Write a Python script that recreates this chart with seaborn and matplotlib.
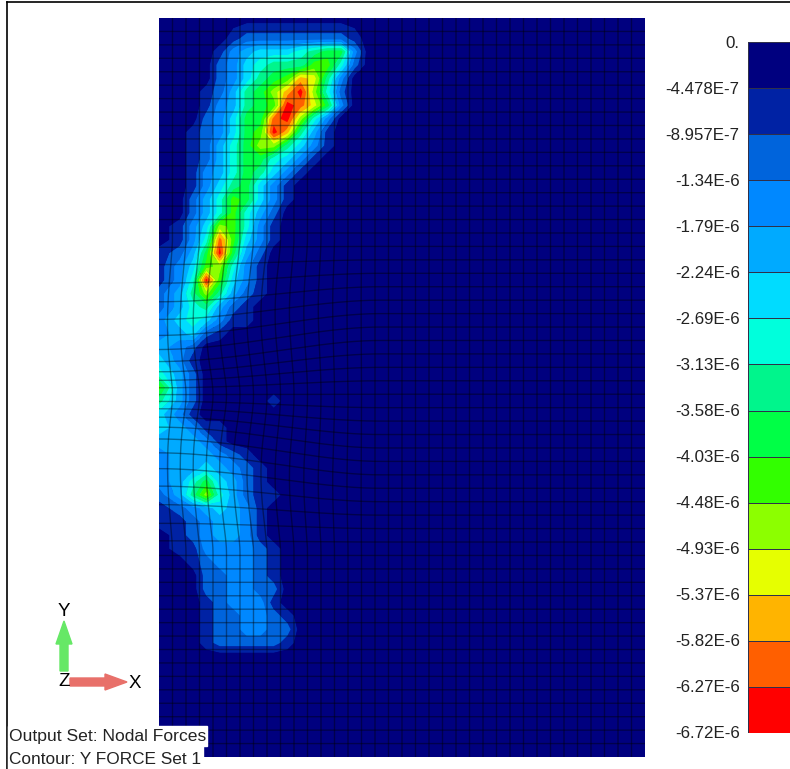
import numpy as np
import pandas as pd
import matplotlib
matplotlib.use('Agg')
import matplotlib.pyplot as plt
import seaborn as sns
from matplotlib.colors import ListedColormap, BoundaryNorm
from matplotlib.lines import Line2D
from matplotlib.patches import FancyArrow, Rectangle
from matplotlib.transforms import ScaledTranslation

tick_labels = ['0.', '-4.478E-7', '-8.957E-7', '-1.34E-6', '-1.79E-6', '-2.24E-6',
               '-2.69E-6', '-3.13E-6', '-3.58E-6', '-4.03E-6', '-4.48E-6', '-4.93E-6',
               '-5.37E-6', '-5.82E-6', '-6.27E-6', '-6.72E-6']
tick_values = [0, -4.478e-7, -8.957e-7, -1.34e-6, -1.79e-6, -2.24e-6, -2.69e-6, -3.13e-6,
               -3.58e-6, -4.03e-6, -4.48e-6, -4.93e-6, -5.37e-6, -5.82e-6, -6.27e-6, -6.72e-6]
band_colors = ['#00007f', '#0022a4', '#0064dc', '#0088ff', '#00aaff', '#00dcff', '#00ffdc',
               '#00f58c', '#00ff46', '#32ff00', '#8cff00', '#e6ff00', '#ffb400', '#ff5f00', '#ff0000']

# contour band per mesh cell, base 15, left part of the model only
band_rows = [
    '',
    '000001222222221',
    '000013455567883',
    '000023567779962',
    '00002357 89cb73'.replace(' ', ''),
    '00012478acea62',
    '00013478 9edb83'.replace(' ', '')[:14],
    '0002358 8dea63'.replace(' ', ''),
    '00123589ec741',
    '001246 8aa7531'.replace(' ', ''),
    '0012468865 31'.replace(' ', ''),
    '00134687531',
    '0013578531',
    '0024698531',
    '002469642',
    '0135a9631',
    '0136d9531',
    '1248e842',
    '1359a631',
    '136e9531',
    '247a7421',
    '2467421',
    '3565311',
    '34521',
    '432',
    '531',
    '642',
    '942',
    '742000001',
    '531',
    '54311',
    '44431',
    '3444321',
    '34454321',
    '34685421',
    '247a64211',
    '12345431',
    '11234431',
    '01234431',
    '011333321',
    '001233321',
    '000223321',
    '000223322',
    '000123331',
    '0001223321',
    '0001223322',
    '0001222221',
]
n_rows, n_cols = 55, 36

W, H = 790, 769
L, R, T, B = 159, 645, 18, 757

bands = np.zeros((n_rows, n_cols))
for i, row in enumerate(band_rows):
    for j, c in enumerate(row):
        bands[i, j] = int(c, 15)

edges = np.array(tick_values)[::-1]
# node values sit at the middle of their band
mids = np.array(tick_values)[:-1] + np.diff(tick_values) / 2
field = pd.DataFrame(mids[bands.astype(int)])
cmap = ListedColormap(band_colors[::-1])
norm = BoundaryNorm(edges, cmap.N)

fig = plt.figure(figsize=(W / 100, H / 100), dpi=100)
ax = fig.add_axes([L / W, 1 - B / H, (R - L) / W, (B - T) / H])
sns.heatmap(field, ax=ax, cmap=cmap, norm=norm, cbar=False, xticklabels=False, yticklabels=False)

xs = np.arange(n_cols) + 0.5
ys = np.arange(n_rows) + 0.5
xs[0], xs[-1] = 0, n_cols
ys[0], ys[-1] = 0, n_rows
ax.contourf(xs, ys, field.values, levels=edges, cmap=cmap, norm=norm, antialiased=True, zorder=2)


def warp(cx, cy):
    # mesh bends around the notch on the left edge, straight elsewhere
    px = L + cx * (R - L) / n_cols
    py = T + cy * (B - T) / n_rows
    du = (py - 395) / 150
    wy = np.clip(1 - (du / 1.05) ** 2, 0, 1) ** 2
    wx = np.clip(1 - ((px - 160) / 220) ** 2, 0, 1) ** 2
    ny = py + (395 - py) * 0.5 * wx * wy
    nx = px - 42 * np.clip(1 - ((px - 230) / 150) ** 2, 0, 1) ** 2 * du ** 2 * wy
    return (nx - L) * n_cols / (R - L), (ny - T) * n_rows / (B - T)


s = np.linspace(0, 1, 160)
for c in range(1, n_cols):
    x, y = warp(c + 0 * s, s * n_rows)
    ax.plot(x, y, color='black', alpha=0.4, lw=1.0, zorder=3, snap=False)
for r in range(1, n_rows):
    x, y = warp(s * n_cols, r + 0 * s)
    ax.plot(x, y, color='black', alpha=0.4, lw=1.0, zorder=3, snap=False)
ax.set_xlim(0, n_cols)
ax.set_ylim(n_rows, 0)
for sp in ax.spines.values():
    sp.set_visible(False)

# legend bar
cax = fig.add_axes([748 / W, 1 - 733 / H, 42 / W, 691 / H])
bar = pd.DataFrame(np.arange(15).reshape(-1, 1))
sns.heatmap(bar, ax=cax, cmap=ListedColormap(band_colors), cbar=False, xticklabels=False,
            linewidths=0.5, linecolor='#30304a')
cax.set_yticks(np.arange(16))
cax.set_yticklabels(tick_labels, rotation=0, fontsize=12.2, color='#222222', family='Liberation Sans')
cax.tick_params(axis='y', length=0, pad=6)
shift = ScaledTranslation(0, -1 / 100, fig.dpi_scale_trans)
for lab in cax.get_yticklabels():
    lab.set_transform(lab.get_transform() + shift)

# overlay in pixel coordinates
ov = fig.add_axes([0, 0, 1, 1], facecolor='none')
ov.set_xlim(0, W)
ov.set_ylim(H, 0)
ov.axis('off')
ov.add_artist(Line2D([7, 7], [2, H], color='black', lw=1.2))
ov.add_artist(Line2D([7, W], [2, 2], color='black', lw=1.2))
ov.add_patch(Rectangle((8, 726), 199, 20, color='white', zorder=4))
ov.add_patch(Rectangle((8, 746), 195, 23, color='white', zorder=4))
ov.text(9, 737, 'Output Set: Nodal Forces', fontsize=12.6, family='Liberation Sans', va='center', color='#222222', zorder=5)
ov.text(9, 760, 'Contour: Y FORCE Set 1', fontsize=12.4, family='Liberation Sans', va='center', color='#222222', zorder=5)
ov.add_patch(FancyArrow(64, 671, 0, -50, width=8, head_width=16, head_length=23,
                        length_includes_head=True, color='#66e866', zorder=4))
ov.add_patch(FancyArrow(70, 682, 57, 0, width=8, head_width=16, head_length=22,
                        length_includes_head=True, color='#e8706a', zorder=4))
ov.text(64, 611, 'Y', fontsize=13.5, family='Liberation Sans', ha='center', va='center', zorder=5)
ov.text(135, 683, 'X', fontsize=13.5, family='Liberation Sans', ha='center', va='center', zorder=5)
ov.text(64, 682, 'Z', fontsize=13.5, family='Liberation Sans', ha='center', va='center', zorder=5)

fig.savefig('out.png', dpi=100)
